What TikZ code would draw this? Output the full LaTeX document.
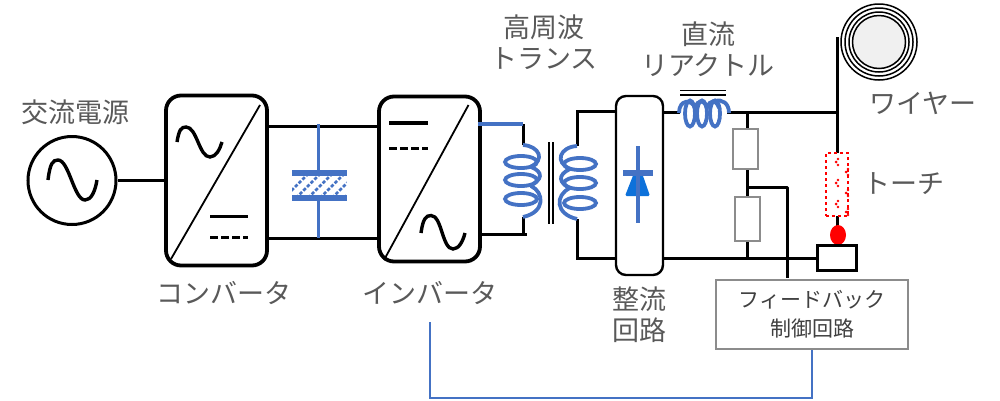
\documentclass[tikz,border=0pt]{standalone}
\usepackage{fontspec}
\setmainfont{Noto Sans CJK JP}
\usetikzlibrary{shapes.geometric}
\definecolor{bl}{HTML}{4472C4}
\definecolor{txt}{HTML}{595959}
\definecolor{fbt}{HTML}{404040}
\definecolor{gbox}{HTML}{8C8C8C}
\tikzset{
 wire/.style={line width=3pt,black},
 blk/.style={draw=black,line width=3.8pt,rounded corners=15pt,fill=white},
 lab/.style={text=txt,font=\fontsize{27}{31}\selectfont,align=center,inner sep=0pt},
 res/.style={draw=gbox,line width=1.8pt,fill=white},
 coil/.style={draw=bl,line width=3.8pt},
 sine/.style={line width=3.4pt,black},
 thin wire/.style={line width=1.8pt,black},
 dcdash/.style={line width=3pt,dash pattern=on 7.5pt off 3.6pt},
}
\newcommand{\sinewave}[6]{% x0 y0 xpeak ypeak xtrough ytrough; ends mirror
\draw[sine] (#1,#2) .. controls (#1+2,#4+3) and (#3-5,#4) .. (#3,#4)
 .. controls (#3+11,#4) and (#5-11,#6) .. (#5,#6)
 .. controls (#5+6,#6) and (#5+10,#6-8) .. (#5+12,#2);}
\begin{document}
\begin{tikzpicture}[x=1pt,y=-1pt]
\useasboundingbox (0,0) rectangle (1000,400);
% source
\node[circle,draw=black,line width=3pt,minimum size=88pt,inner sep=0pt] (src) at (72,180.5) {};
\coordinate (acr) at (166,180.5);
\draw[wire] (src.east) -- (acr);
\sinewave{48}{180}{58}{160}{85}{200}
% DC link
\draw[wire] (268,126.7) -- (378,126.7);
\draw[wire] (268,238) -- (378,238);
% capacitor
\draw[bl,line width=3.4pt] (318.7,124) -- (318.7,238);
\fill[white] (292,170) rectangle (346.5,200);
\begin{scope}
\clip (292,175) rectangle (346.5,196);
\foreach \i in {0,...,6}{
 \draw[bl,line width=2.6pt,dash pattern=on 3.4pt off 1.8pt] (284+\i*12,198) -- (284+\i*12+25,173);}
\end{scope}
\fill[bl] (292,170) rectangle (346.5,175.5);
\fill[bl] (292,195) rectangle (346.5,200.5);
% converter
\node[blk,minimum width=101pt,minimum height=170pt,inner sep=0pt] (conv) at (216.5,180.5) {};
\draw[line width=1.8pt] (171,259) -- (260,105);
\sinewave{177}{142}{186}{127}{210}{157}
\draw[line width=3.8pt] (210,216.5) -- (248,216.5);
\draw[dcdash] (210,237) -- (248,237);
% inverter
\node[blk,minimum width=101pt,minimum height=165pt,inner sep=0pt] (inv) at (429.5,179) {};
\draw[line width=1.8pt] (384,260) -- (468.5,105);
\sinewave{421}{233}{431}{215.5}{453}{249}
\draw[line width=3.8pt] (389,123) -- (428,123);
\draw[dcdash] (389,148.5) -- (428,148.5);
% primary
\draw[wire] (523,124) -- (523,145);
\draw[wire] (523,217) -- (523,234);
\draw[wire] (482,234) -- (527,234);
\draw[bl,line width=3.4pt] (478,124) -- (523,124);
\foreach \y in {162,180,199}{\draw[coil] (521,\y) ellipse (16pt and 6pt);}
\draw[coil] (523,145) .. controls (539,146) and (546,160) .. (530,167);
\draw[coil] (531,167) .. controls (544,172) and (542,180) .. (530,186);
\draw[coil] (531,186) .. controls (544,192) and (546,212) .. (523,217);
\draw[thin wire] (549,142) -- (549,224);
\draw[thin wire] (553,142) -- (553,224);
% secondary
\draw[wire,line join=miter] (616,111.5) -- (577,111.5) -- (577,146);
\draw[wire,line join=miter] (616,258) -- (577,258) -- (577,219);
\foreach \y in {164,183,203}{\draw[coil] (580,\y) ellipse (16pt and 6pt);}
\draw[coil] (577,146) .. controls (560,147) and (554,162) .. (570,169);
\draw[coil] (570,169) .. controls (557,175) and (559,183) .. (570,188);
\draw[coil] (570,188) .. controls (555,195) and (555,214) .. (577,219);
% output buses
\draw[wire] (663,112) -- (680,112);
\draw[wire] (727,112) -- (838,112);
\draw[wire] (663,258) -- (817,258);
% rectifier
\node[draw=black,line width=2.4pt,fill=white,rounded corners=10pt,minimum width=47pt,minimum height=179pt,inner sep=0pt] (rect) at (639.5,185.5) {};
\fill[rounded corners=1.5pt,fill=bl!35!blue!60!cyan!90!black] (634,173) -- (642,173) -- (650,196) -- (625,196) -- cycle;
\fill[bl] (623,170) rectangle (653,176);
\draw[bl,line width=3.4pt] (638,146) -- (638,223);
% reactor
\draw[thin wire] (680,90.5) -- (726,90.5);
\draw[thin wire] (680,95.3) -- (726,95.3);
\foreach \x in {690,702,715}{\draw[coil] (\x,113.5) ellipse (5pt and 13pt);}
\draw[coil] (679,113) .. controls (679,99) and (692,99) .. (695,108);
\draw[coil] (695,108) .. controls (698,99) and (704,99) .. (707,108);
\draw[coil] (707,108) .. controls (710,99) and (716,99) .. (719,108);
\draw[coil] (715,101) .. controls (722,99) and (729,103) .. (729,113);
% resistors
\draw[wire] (747,112) -- (747,258);
\node[res,minimum width=25pt,minimum height=40pt,inner sep=0pt] (r1) at (745.5,149) {};
\node[res,minimum width=25pt,minimum height=44pt,inner sep=0pt] (r2) at (747.5,219) {};
\draw[wire,line join=round] (747,187) -- (787,187) -- (787,278);
% wire & torch
\draw[wire] (837.5,37) -- (837.5,153);
\draw[wire] (837.5,216) -- (837.5,226);
\node[draw=red,dashed,line width=1.6pt,minimum width=22pt,minimum height=63pt,inner sep=0pt,fill=white] (torch) at (837,184.5) {};
\foreach \x/\y in {836/162,846/172,836/183,846/193,836/204,846/212}{
 \fill[red] (\x,\y) circle (1.5pt); \fill[red] (\x+2,\y-3) circle (1.3pt); \fill[red] (\x+2,\y+3) circle (1.3pt);}
\node[ellipse,fill=red,minimum width=16pt,minimum height=20pt,inner sep=0pt] (tip) at (838,235) {};
\node[draw=black,line width=3pt,fill=white,minimum width=39pt,minimum height=25pt,inner sep=0pt] (wp) at (837,257.5) {};
% spool
\fill[gray!12] (879,42) circle (26pt);
\foreach \r in {38,34,30,26.5}{\draw[line width=1.5pt] (879,42) circle (\r pt);}
% feedback
\node[draw=gbox,line width=1.8pt,fill=white,minimum width=192pt,minimum height=69pt,inner sep=0pt,
 align=center,text=fbt,font=\fontsize{21}{29}\selectfont] (fb) at (812,314.5) {フィードバック\\制御回路};
\coordinate (cfree) at (430,322);
\draw[bl,line width=1.4pt] (cfree) -- (430,398) -- (812,398) -- (fb.south);
% labels
\node[lab] (l1) at (75,112) {交流電源};
\node[lab] (l2) at (224,293) {コンバータ};
\node[lab] (l3) at (430,293) {インバータ};
\node[lab] (l4) at (544,42) {高周波\\トランス};
\node[lab] (l5) at (708,49) {直流\\リアクトル};
\node[lab] (l6) at (639,315) {整流\\回路};
\node[lab] (l7) at (923,103) {ワイヤー};
\node[lab] (l8) at (904,184) {トーチ};
\end{tikzpicture}
\end{document}
